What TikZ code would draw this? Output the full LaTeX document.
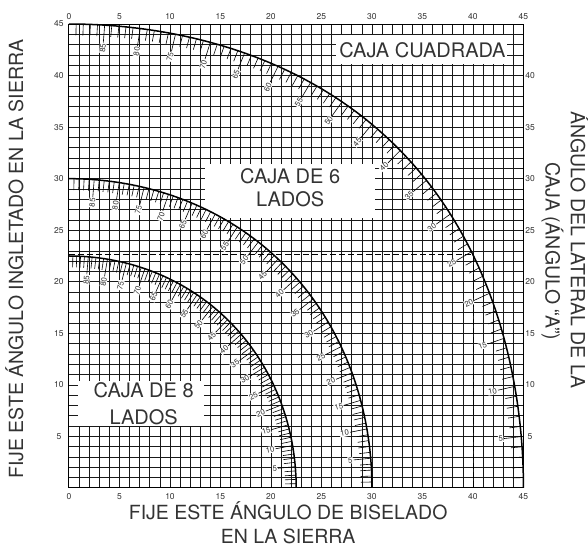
\documentclass[tikz,border=0pt]{standalone}
\usepackage{fontspec}
\setmainfont{TeX Gyre Heros}
\begin{document}
\begin{tikzpicture}[x=10.1pt,y=10.31pt]
        \tikzstyle{every node}+=[inner sep=0pt, text=black!80]
        \tikzstyle{gridline}=[black!90, line width=0.6pt]
        \tikzstyle{curve}=[black, line width=1.5pt]
        \tikzstyle{tick}=[black, line width=0.6pt]
        \tikzstyle{title}=[font=\fontsize{19.5}{24}\selectfont]
        \tikzstyle{boxlabel}=[font=\fontsize{20}{24}\selectfont]
        \tikzstyle{axisnum}=[font=\fontsize{8.5}{10}\selectfont]
        \tikzstyle{curvenum}=[font=\fontsize{7.8}{9}\selectfont, fill=white, inner sep=0.5pt]
        \useasboundingbox (-6.83,-5.43) rectangle (51.39,47.33);
        \foreach \i in {1,...,44} {
          \draw [gridline] (\i,0) -- (\i,45);
          \draw [gridline] (0,\i) -- (45,\i);
        }
        \fill [white] (0.9,6) rectangle (13.4,10.4);
        \fill [white] (13.5,26.2) rectangle (30.3,31.4);
        \fill [white] (26.4,41.1) rectangle (43.4,43.9);
        \draw [black, line width=1pt] (0,0) rectangle (45,45);
        \draw [black, line width=0.9pt, dash pattern=on 6pt off 3pt] (0,22.62) -- (40,22.62) -- (40,0);
        \foreach \h in {45,30,22.5} {
          \draw [curve] plot [domain=0:90, samples=91, variable=\t] ({asin(cos(\t)*sin(\h))},{atan(sin(\t)*tan(\h))});
          \foreach \t in {1,...,89} {
            \pgfmathsetmacro{\bx}{asin(cos(\t)*sin(\h))}
            \pgfmathsetmacro{\my}{atan(sin(\t)*tan(\h))}
            \pgfmathsetmacro{\dir}{atan2(\my,\bx)+180}
            \pgfmathsetmacro{\len}{ifthenelse(mod(\t,5)==0,1.7,1.1)}
            \draw [tick] (\bx,\my) -- ++(\dir:\len);
          }
          \foreach \t in {5,10,...,85} {
            \pgfmathsetmacro{\bx}{asin(cos(\t)*sin(\h))}
            \pgfmathsetmacro{\my}{atan(sin(\t)*tan(\h))}
            \pgfmathsetmacro{\ang}{atan2(\my,\bx)}
            \pgfmathsetmacro{\lx}{\bx-1.75*cos(\ang)}
            \pgfmathsetmacro{\ly}{\my-1.75*sin(\ang)}
            \node [curvenum, rotate=\ang, anchor=east] (n\t) at (\lx,\ly) {\t};
          }
        }
        \foreach \v in {0,5,...,45} {
          \node [axisnum] (top\v) at (\v,45.7) {\v};
          \node [axisnum] (bot\v) at (\v,-0.87) {\v};
        }
        \foreach \v in {5,10,...,45}
          \node [axisnum] (left\v) at (-1.0,\v) {\v};
        \foreach \v in {5,10,...,40}
          \node [axisnum] (right\v) at (45.65,\v) {\v};
        \node [boxlabel, anchor=base] (square) at (35,41.8) {CAJA CUADRADA};
        \node [boxlabel, anchor=base] (six1) at (21.9,29.55) {CAJA DE 6};
        \node [boxlabel, anchor=base] (six2) at (21.9,27.28) {LADOS};
        \node [boxlabel, anchor=base] (eight1) at (7.4,8.73) {CAJA DE 8};
        \node [boxlabel, anchor=base] (eight2) at (7.4,6.2) {LADOS};
        \node [title, anchor=base] (bevel1) at (21.7,-3.04) {FIJE ESTE ÁNGULO DE BISELADO};
        \node [title, anchor=base] (bevel2) at (21.7,-5.38) {EN LA SIERRA};
        \node [title, rotate=90, anchor=base] (miter) at (-4.55,22.2) {FIJE ESTE ÁNGULO INGLETADO EN LA SIERRA};
        \node [title, rotate=-90, anchor=base] (side1) at (49.7,23.1) {ÁNGULO DEL LATERAL DE LA};
        \node [title, rotate=-90, anchor=base] (side2) at (47.2,22.95) {CAJA (ÁNGULO “A”)};
\end{tikzpicture}
\end{document}
